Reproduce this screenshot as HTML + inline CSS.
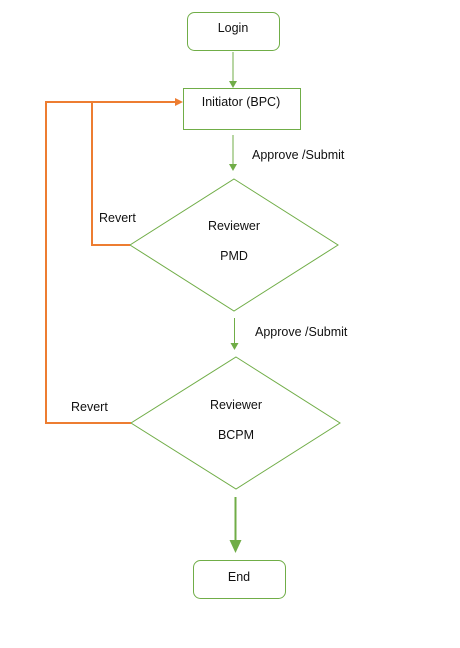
<!DOCTYPE html>
<html><head><meta charset="utf-8"><style>
html,body{margin:0;padding:0;background:#fff;}
svg{display:block;}
text{font-family:"Liberation Sans",sans-serif;font-size:12.5px;fill:#111;}
</style></head><body>
<svg width="460" height="648" viewBox="0 0 460 648" xmlns="http://www.w3.org/2000/svg">
<g fill="none" stroke="#70ad47" stroke-width="1">
<rect x="187.5" y="12.5" width="92" height="38" rx="7"/>
<rect x="183.5" y="88.5" width="117" height="41"/>
<polygon points="234,179 338,245 234,311 130,245"/>
<polygon points="236,357 340,423 236,489 131,423"/>
<rect x="193.5" y="560.5" width="92" height="38" rx="7"/>
<line x1="233" y1="52" x2="233" y2="81"/>
<line x1="233" y1="135" x2="233" y2="164"/>
<line x1="234.5" y1="318" x2="234.5" y2="343"/>
<line x1="235.5" y1="497" x2="235.5" y2="542" stroke-width="2"/>
</g>
<g fill="#70ad47">
<polygon points="229,81 237,81 233,88"/>
<polygon points="229,164 237,164 233,171"/>
<polygon points="230.5,343 238.5,343 234.5,350"/>
<polygon points="229.5,540 241.5,540 235.5,553"/>
</g>
<g fill="none" stroke="#ed7d31" stroke-width="2">
<polyline points="131,423 46,423 46,102 176,102"/>
<polyline points="130,245 92,245 92,102"/>
</g>
<polygon points="175,98 183,102 175,106" fill="#ed7d31"/>
<g text-anchor="middle">
<text x="233" y="32">Login</text>
<text x="241" y="106">Initiator (BPC)</text>
<text x="234" y="230">Reviewer</text>
<text x="234" y="260">PMD</text>
<text x="236" y="409">Reviewer</text>
<text x="236" y="439">BCPM</text>
<text x="239" y="581">End</text>
</g>
<text x="252" y="159">Approve /Submit</text>
<text x="255" y="336">Approve /Submit</text>
<text x="99" y="222">Revert</text>
<text x="71" y="411">Revert</text>
</svg>
</body></html>
